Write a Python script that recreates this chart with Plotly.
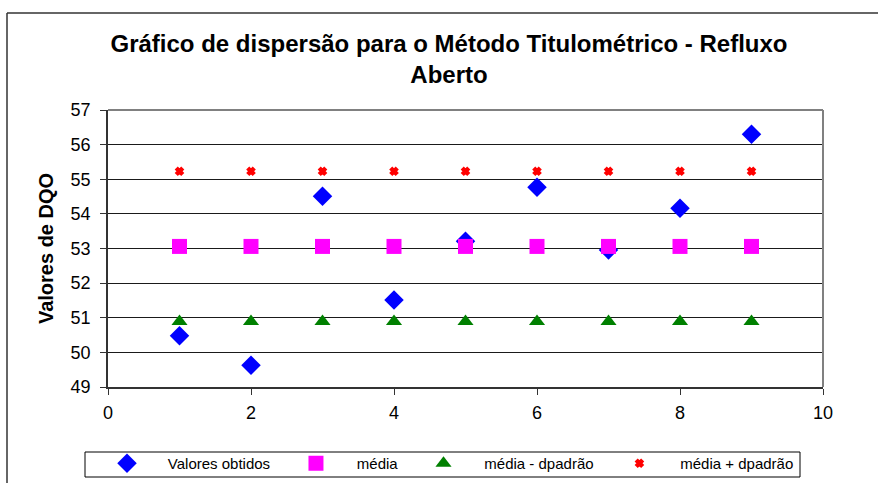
import plotly.graph_objects as go

# ---- data ----
amostras = [1, 2, 3, 4, 5, 6, 7, 8, 9]
valores_obtidos = [50.48, 49.63, 54.51, 51.51, 53.21, 54.77, 52.96, 54.16, 56.30]
media = [53.06] * 9
media_menos_dp = [50.89] * 9
media_mais_dp = [55.23] * 9
serie_nomes = ["Valores obtidos", "média", "média - dpadrão", "média + dpadrão"]
x_ticks = [0, 2, 4, 6, 8, 10]
y_ticks = [49, 50, 51, 52, 53, 54, 55, 56, 57]

FONT = "Liberation Sans, Arial, sans-serif"
NB = "\u00a0"

def lbl(s, trail=5):
    return NB * 5 + s + NB * trail

fig = go.Figure()
fig.add_trace(go.Scatter(x=amostras, y=valores_obtidos, mode="markers", name=lbl(serie_nomes[0]),
                         marker=dict(symbol="diamond", size=15, color="#0000FF", line=dict(width=0))))
fig.add_trace(go.Scatter(x=amostras, y=media, mode="markers", name=lbl(serie_nomes[1]),
                         marker=dict(symbol="square", size=15, color="#FF00FF", line=dict(width=0))))
fig.add_trace(go.Scatter(x=amostras, y=media_menos_dp, mode="markers", name=lbl(serie_nomes[2]),
                         marker=dict(symbol="triangle-up", size=14, color="#008000", line=dict(width=0))))
fig.add_trace(go.Scatter(x=amostras, y=media_mais_dp, mode="markers", name=lbl(serie_nomes[3], 0),
                         marker=dict(symbol="x", size=6, color="#FF0000",
                                     line=dict(width=2, color="#FF0000"))))

L, R, T, B = 108, 55, 110, 96
W, H = 878, 483
pw, ph = W - L - R, H - T - B

def px2x(px):
    return (px - L) / pw

def py2y(py):
    return (H - B - py) / ph

fig.update_layout(
    width=W, height=H,
    margin=dict(l=L, r=R, t=T, b=B, pad=0, autoexpand=False),
    paper_bgcolor="white", plot_bgcolor="white",
    font=dict(family=FONT, color="black"),
    title=dict(text="Gráfico de dispersão para o Método Titulométrico - Refluxo<br>Aberto",
               x=449 / W, xanchor="center", xref="container",
               y=1 - 52 / H, yanchor="top", yref="container",
               font=dict(family=FONT, size=24, weight="bold", color="black")),
    showlegend=True,
    legend=dict(orientation="h", x=px2x(107), xanchor="left", y=py2y(447), yanchor="top",
                borderwidth=0, bgcolor="rgba(0,0,0,0)",
                font=dict(family=FONT, size=15, color="black"),
                itemsizing="trace", tracegroupgap=0),
    xaxis=dict(range=[0, 10], tickvals=x_ticks, ticktext=[str(v) for v in x_ticks],
               showgrid=False, zeroline=False, showline=True, linecolor="#333333", linewidth=1.5,
               ticks="outside", ticklen=6, tickcolor="#333333", tickwidth=1,
               tickfont=dict(family=FONT, size=18, color="black"), ticklabelstandoff=3),
    yaxis=dict(range=[49, 57], tickvals=y_ticks, ticktext=[str(v) for v in y_ticks],
               showgrid=True, gridcolor="#1a1a1a", gridwidth=1,
               zeroline=False, showline=True, linecolor="#333333", linewidth=1.5,
               ticks="outside", ticklen=6, tickcolor="#333333", tickwidth=1,
               tickfont=dict(family=FONT, size=18, color="black"), ticklabelstandoff=6,
               title=dict(text="Valores de DQO", standoff=12,
                          font=dict(family=FONT, size=20, weight="bold", color="black"))),
    shapes=[
        dict(type="line", xref="paper", yref="paper", x0=0, x1=1, y0=1, y1=1,
             line=dict(color="#808080", width=2)),
        dict(type="line", xref="paper", yref="paper", x0=1, x1=1, y0=0, y1=1,
             line=dict(color="#808080", width=2)),
        dict(type="line", xref="paper", yref="paper", x0=px2x(7), x1=px2x(900), y0=py2y(13), y1=py2y(13),
             line=dict(color="#333333", width=1.5)),
        dict(type="line", xref="paper", yref="paper", x0=px2x(7), x1=px2x(7), y0=py2y(13), y1=py2y(500),
             line=dict(color="#333333", width=1.5)),
        # legend frame
        dict(type="rect", xref="paper", yref="paper", x0=px2x(85), x1=px2x(800), y0=py2y(452), y1=py2y(477),
             line=dict(color="black", width=1), fillcolor="rgba(0,0,0,0)", layer="below"),
    ],
)

fig.write_html("out.html", config={"displayModeBar": False},
               post_script="document.body.style.margin='0';document.body.style.padding='0';")
